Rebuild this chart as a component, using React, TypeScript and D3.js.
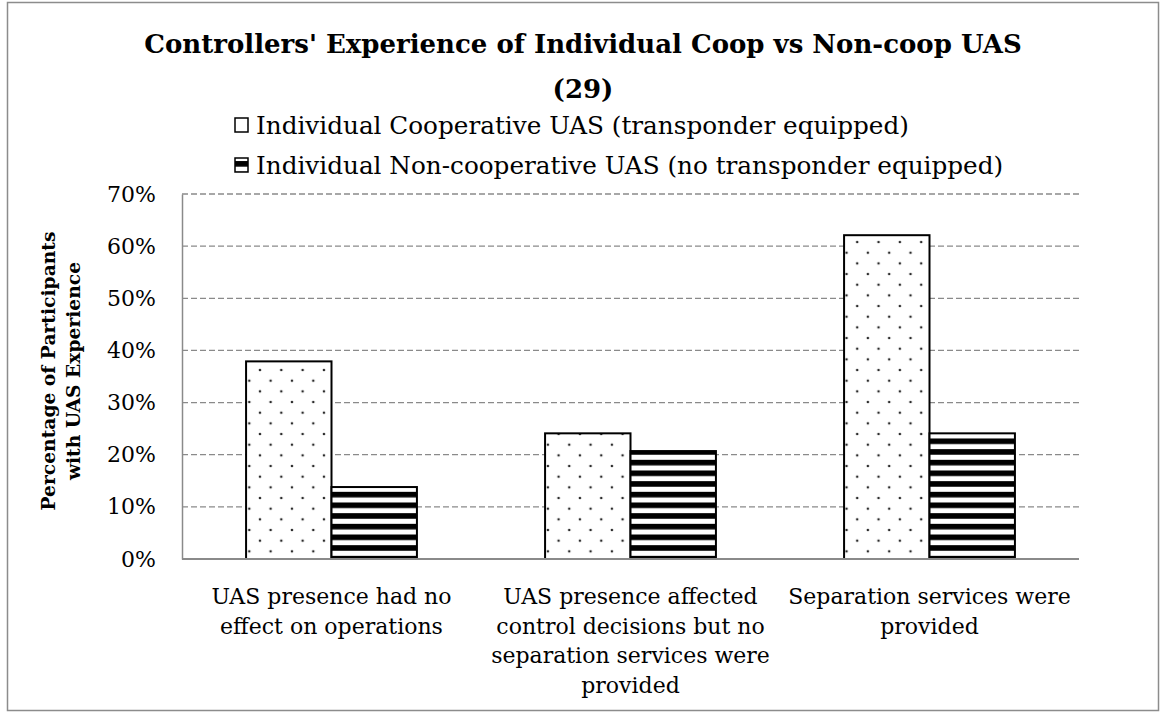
import React, { useEffect, useRef } from 'react';
import * as d3 from 'd3';

const categories = [
  'UAS presence had no effect on operations',
  'UAS presence affected control decisions but no separation services were provided',
  'Separation services were provided',
];
// how each category label wraps under the axis
const categoryLines = [
  ['UAS presence had no', 'effect on operations'],
  ['UAS presence affected', 'control decisions but no', 'separation services were', 'provided'],
  ['Separation services were', 'provided'],
];
const seriesNames = [
  'Individual Cooperative UAS (transponder equipped)',
  'Individual Non-cooperative UAS (no transponder equipped)',
];
const coopValues = [0.379, 0.241, 0.621];
const nonCoopValues = [0.138, 0.207, 0.241];
const yTicks = [0, 0.1, 0.2, 0.3, 0.4, 0.5, 0.6, 0.7];

const FONT = '"DejaVu Serif", serif';

export default function App() {
  const ref = useRef<SVGSVGElement>(null);

  useEffect(() => {
    const width = 1161;
    const height = 713;
    const plot = { left: 182, right: 1079, top: 194, bottom: 559 };

    const svg = d3.select(ref.current);
    svg.selectAll('*').remove();

    // patterns
    const defs = svg.append('defs');
    const dots = defs.append('pattern')
      .attr('id', 'dots')
      .attr('patternUnits', 'userSpaceOnUse')
      .attr('width', 21.33)
      .attr('height', 21.33)
      .attr('x', 249.3)
      .attr('y', 380.7);
    dots.append('rect').attr('width', 21.33).attr('height', 21.33).attr('fill', '#fff');
    [[0, 0], [21.33, 0], [0, 21.33], [21.33, 21.33], [10.67, 10.67]].forEach(([cx, cy]) => {
      dots.append('circle').attr('cx', cx).attr('cy', cy).attr('r', 1.3).attr('fill', '#2a2a2a');
    });

    const stripes = defs.append('pattern')
      .attr('id', 'stripes')
      .attr('patternUnits', 'userSpaceOnUse')
      .attr('width', 10.67)
      .attr('height', 10.67)
      .attr('y', 1);
    stripes.append('rect').attr('width', 10.67).attr('height', 10.67).attr('fill', '#fff');
    stripes.append('rect').attr('width', 10.67).attr('height', 5.6).attr('fill', '#000');

    const fills = ['url(#dots)', 'url(#stripes)'];

    // outer frame
    svg.append('rect')
      .attr('x', 7.5).attr('y', 2.5)
      .attr('width', 1151).attr('height', 708)
      .attr('fill', '#fff')
      .attr('stroke', '#8c8c8c')
      .attr('stroke-width', 1.5);

    const x0 = d3.scaleBand<string>()
      .domain(categories)
      .range([plot.left, plot.right]);
    const x1 = d3.scaleBand<number>()
      .domain([0, 1])
      .range([0, x0.bandwidth()])
      .paddingOuter(0.75);
    const y = d3.scaleLinear()
      .domain([0, 0.7])
      .range([plot.bottom, plot.top]);

    // gridlines
    svg.append('g')
      .selectAll('line')
      .data(yTicks.filter(d => d > 0))
      .enter().append('line')
      .attr('x1', plot.left)
      .attr('x2', plot.right)
      .attr('y1', d => y(d))
      .attr('y2', d => y(d))
      .attr('stroke', '#8a8a8a')
      .attr('stroke-width', 1.3)
      .attr('stroke-dasharray', '6,3');

    // y axis
    const yAxis = d3.axisLeft(y)
      .tickValues(yTicks)
      .tickFormat(d3.format('.0%'))
      .tickSize(0)
      .tickSizeOuter(0)
      .tickPadding(26);
    const yg = svg.append('g')
      .attr('transform', `translate(${plot.left},0)`)
      .call(yAxis);
    yg.select('.domain').attr('stroke', '#8a8a8a').attr('stroke-width', 1.5);
    yg.selectAll('text')
      .attr('font-family', FONT)
      .attr('font-size', 22)
      .attr('fill', '#000');

    // bars
    const series = [coopValues, nonCoopValues];
    series.forEach((values, s) => {
      svg.append('g')
        .selectAll('rect')
        .data(values)
        .enter().append('rect')
        .attr('x', (d, i) => (x0(categories[i]) as number) + (x1(s) as number))
        .attr('width', x1.bandwidth())
        .attr('y', d => y(d))
        .attr('height', d => y(0) - y(d))
        .attr('fill', fills[s])
        .attr('stroke', '#000')
        .attr('stroke-width', 2);
    });

    // baseline
    svg.append('line')
      .attr('x1', plot.left).attr('x2', plot.right)
      .attr('y1', y(0)).attr('y2', y(0))
      .attr('stroke', '#8a8a8a')
      .attr('stroke-width', 2);

    // category labels
    const xg = svg.append('g');
    categoryLines.forEach((lines, i) => {
      const cx = (x0(categories[i]) as number) + x0.bandwidth() / 2;
      const t = xg.append('text')
        .attr('text-anchor', 'middle')
        .attr('font-family', FONT)
        .attr('font-size', 22)
        .attr('fill', '#000');
      lines.forEach((line, j) => {
        t.append('tspan')
          .attr('x', cx)
          .attr('y', 604 + j * 29.6)
          .text(line);
      });
    });

    // y axis title
    svg.append('text')
      .attr('transform', 'translate(0,371) rotate(-90)')
      .attr('text-anchor', 'middle')
      .attr('font-family', FONT)
      .attr('font-weight', 'bold')
      .attr('font-size', 18.7)
      .selectAll('tspan')
      .data(['Percentage of Participants', 'with UAS Experience'])
      .enter().append('tspan')
      .attr('x', 0)
      .attr('y', (d, i) => 55 + i * 25)
      .text(d => d);

    // title
    svg.append('text')
      .attr('text-anchor', 'middle')
      .attr('font-family', FONT)
      .attr('font-weight', 'bold')
      .attr('font-size', 26)
      .selectAll('tspan')
      .data(["Controllers' Experience of Individual Coop vs Non-coop UAS", '(29)'])
      .enter().append('tspan')
      .attr('x', 583)
      .attr('y', (d, i) => 53 + i * 45)
      .text(d => d);

    // legend
    const legend = svg.append('g');
    seriesNames.forEach((name, i) => {
      const ly = 125 + i * 40;
      legend.append('rect')
        .attr('x', 235).attr('y', ly - 7)
        .attr('width', 13).attr('height', 14)
        .attr('fill', fills[i])
        .attr('stroke', '#000')
        .attr('stroke-width', 1.5);
      legend.append('text')
        .attr('x', 256)
        .attr('y', ly)
        .attr('dy', '0.36em')
        .attr('font-family', FONT)
        .attr('font-size', 24.7)
        .text(name);
    });

    svg.attr('width', width).attr('height', height);
  }, []);

  return (
    <svg ref={ref} style={{ position: 'absolute', left: 0, top: 0, background: '#fff' }} />
  );
}
